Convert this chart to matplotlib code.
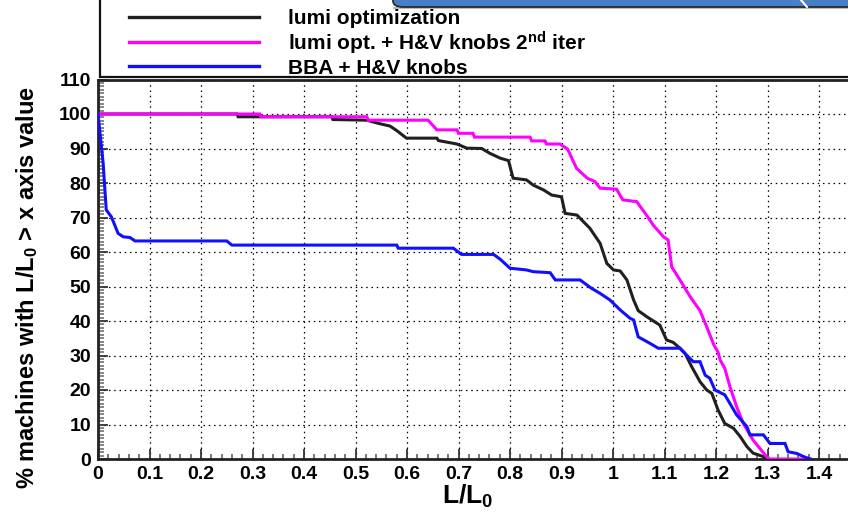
import matplotlib
matplotlib.use("Agg")
import matplotlib.pyplot as plt
from matplotlib.patches import Rectangle, FancyBboxPatch
from matplotlib.lines import Line2D

plt.rcParams['font.family'] = ['Liberation Sans', 'DejaVu Sans']
plt.rcParams['mathtext.fontset'] = 'custom'
plt.rcParams['mathtext.rm'] = 'Liberation Sans:bold'
plt.rcParams['mathtext.it'] = 'Liberation Sans:bold'
plt.rcParams['mathtext.bf'] = 'Liberation Sans:bold'

# ---- data: fraction of machines (%) with L/L0 above the x value ----
lumi_x = [0, 0.270, 0.272, 0.454, 0.456, 0.522, 0.544, 0.567, 0.580, 0.599, 0.658, 0.661,
          0.697, 0.716, 0.745, 0.761, 0.781, 0.797, 0.806, 0.832, 0.845, 0.865, 0.881, 0.900,
          0.907, 0.930, 0.955, 0.975, 0.988, 1.001, 1.014, 1.027, 1.040, 1.049, 1.065, 1.091,
          1.104, 1.117, 1.130, 1.140, 1.153, 1.169, 1.182, 1.192, 1.204, 1.217, 1.234, 1.247,
          1.260, 1.272, 1.292, 1.298]
lumi_y = [100, 100, 99.2, 99.2, 98.4, 98.2, 97.3, 96.5, 95.2, 93.0, 93.0, 92.3,
          91.3, 90.1, 90.0, 88.6, 87.2, 86.5, 81.4, 80.9, 79.4, 78.0, 76.5, 76.0,
          71.2, 70.7, 66.9, 62.5, 56.7, 54.8, 54.5, 51.9, 46.1, 43.0, 41.3, 38.8,
          34.5, 33.8, 32.1, 30.6, 26.7, 22.4, 20.0, 19.0, 14.2, 10.3, 8.9, 6.5,
          3.6, 1.7, 0.7, 0]

knobs_x = [0, 0.314, 0.316, 0.522, 0.525, 0.641, 0.658, 0.697, 0.700, 0.728, 0.731, 0.839,
           0.842, 0.868, 0.871, 0.897, 0.912, 0.929, 0.950, 0.965, 0.975, 1.007, 1.019, 1.046,
           1.065, 1.078, 1.098, 1.107, 1.114, 1.130, 1.150, 1.169, 1.182, 1.196, 1.204, 1.208,
           1.217, 1.227, 1.240, 1.253, 1.272, 1.285, 1.298, 1.305, 1.383]
knobs_y = [100, 100, 99.2, 99.2, 98.2, 98.2, 95.4, 95.4, 94.4, 94.4, 93.3, 93.3,
           92.2, 92.2, 91.3, 91.3, 89.8, 84.3, 81.4, 80.4, 78.5, 78.2, 75.1, 74.6,
           70.7, 67.8, 64.4, 63.5, 55.7, 51.9, 47.0, 43.0, 38.3, 33.0, 31.0, 28.7,
           26.3, 21.0, 15.2, 10.3, 5.5, 3.1, 0.7, 0, 0]

bba_x = [0, 0.010, 0.016, 0.026, 0.039, 0.049, 0.062, 0.072, 0.250, 0.260, 0.580, 0.583,
         0.690, 0.706, 0.768, 0.781, 0.800, 0.832, 0.845, 0.878, 0.888, 0.936, 0.958, 0.975,
         0.994, 1.014, 1.033, 1.040, 1.049, 1.072, 1.088, 1.130, 1.143, 1.156, 1.169, 1.179,
         1.188, 1.198, 1.217, 1.227, 1.240, 1.260, 1.266, 1.292, 1.305, 1.334, 1.340, 1.357,
         1.370, 1.383]
bba_y = [100, 85.7, 72.2, 70.2, 65.4, 64.4, 64.2, 63.2, 63.2, 62.0, 62.0, 61.1,
         61.1, 59.3, 59.3, 57.9, 55.3, 54.8, 54.3, 54.0, 51.9, 51.9, 49.5, 48.0,
         46.1, 43.2, 40.8, 40.3, 35.4, 33.5, 32.1, 32.1, 30.1, 28.2, 28.2, 24.3,
         23.4, 20.0, 18.6, 16.1, 12.8, 9.4, 7.0, 7.0, 4.5, 4.5, 2.1, 1.6,
         0.7, 0]

labels = ["lumi optimization",
          r"lumi opt. + H&V knobs 2$^{\mathrm{nd}}$ iter",
          "BBA + H&V knobs"]
colors = ["#202020", "#ff00ff", "#1010ff"]

x_ticks = [0, 0.1, 0.2, 0.3, 0.4, 0.5, 0.6, 0.7, 0.8, 0.9, 1, 1.1, 1.2, 1.3, 1.4, 1.5]
x_tick_labels = ["0", "0.1", "0.2", "0.3", "0.4", "0.5", "0.6", "0.7", "0.8", "0.9",
                 "1", "1.1", "1.2", "1.3", "1.4", ""]
y_ticks = list(range(0, 111, 10))

# ---- figure ----
W, H = 848, 514
fig = plt.figure(figsize=(W / 100, H / 100), dpi=100)


def fx(px):
    return px / W


def fy(py):
    return 1 - py / H


x0, x1 = 98, 98 + 1.5 * 515
y_top, y_bot = 79.5, 459
ax = fig.add_axes([fx(x0), fy(y_bot), (x1 - x0) / W, (y_bot - y_top) / H])

lines = []
for xs, ys, c in [(lumi_x, lumi_y, colors[0]), (knobs_x, knobs_y, colors[1]),
                  (bba_x, bba_y, colors[2])]:
    ln, = ax.plot(xs, ys, color=c, lw=2.2, solid_joinstyle='miter', zorder=3)
    lines.append(ln)

ax.set_xlim(0, 1.5)
ax.set_ylim(0, 110)
ax.set_xticks(x_ticks)
ax.set_xticklabels(x_tick_labels)
ax.set_yticks(y_ticks)
ax.set_xticks([i * 0.02 for i in range(76)], minor=True)
ax.set_yticks(list(range(0, 111)), minor=True)

ax.grid(True, which='major', color='black', lw=0.9, ls=(0, (1.2, 3)))
ax.tick_params(which='major', direction='in', width=1.3, color='#333333',
               labelsize=14)
ax.tick_params(axis='x', which='major', length=7, pad=5)
ax.tick_params(axis='y', which='major', length=7.5, pad=5)
ax.tick_params(axis='x', which='minor', direction='in', length=3.8, width=1.1,
               color='#555555')
ax.tick_params(axis='y', which='minor', direction='in', length=4.5, width=1.1,
               color='#666666')
for lab in ax.get_xticklabels() + ax.get_yticklabels():
    lab.set_fontweight('bold')

for sp in ax.spines.values():
    sp.set_linewidth(2.0)
    sp.set_color('#222222')

ax.set_xlabel(r"L/L$_0$", fontsize=19, fontweight='bold')
ax.xaxis.set_label_coords((468 - x0) / (x1 - x0), -(496 - y_bot) / (y_bot - y_top))
ax.xaxis.label.set_va('center')
ax.set_ylabel(r"% machines with L/L$_0$ > x axis value", fontsize=17,
              fontweight='bold')
ax.yaxis.set_label_coords(-(x0 - 27) / (x1 - x0), (y_bot - 287) / (y_bot - y_top))
ax.yaxis.label.set_va('center')

# ---- legend box at the top ----
fig.add_artist(Rectangle((fx(100), fy(77)), fx(900) - fx(100), fy(-20) - fy(77),
                         transform=fig.transFigure, facecolor='white',
                         edgecolor='#111111', lw=1.6, zorder=1))
row_y = [17, 42, 66]
text_y = [18, 43, 68]
for ln, lab, ly, ty in zip(lines, labels, row_y, text_y):
    fig.add_artist(Line2D([fx(129), fx(259)], [fy(ly), fy(ly)], transform=fig.transFigure,
                          color=ln.get_color(), lw=2.4, zorder=2))
    fig.text(fx(288), fy(ty), lab, fontsize=15, fontweight='bold',
             ha='left', va='center', zorder=2)

# ---- slide banner across the top right ----
fig.add_artist(Rectangle((fx(393), fy(9)), fx(900) - fx(393), fy(7) - fy(9),
                         transform=fig.transFigure, facecolor='#bbbbbb',
                         edgecolor='none', zorder=4))
fig.add_artist(FancyBboxPatch((fx(393), fy(7)), fx(900) - fx(393), fy(-20) - fy(7),
                              boxstyle="round,pad=0,rounding_size=0.012",
                              transform=fig.transFigure, facecolor='#4a7fc8',
                              edgecolor='#2a2a2a', lw=1.3, zorder=5))
fig.add_artist(Line2D([fx(801), fx(807)], [fy(0), fy(7)], transform=fig.transFigure,
                      color='white', lw=1.5, zorder=6))

fig.savefig("out.png", dpi=100)
